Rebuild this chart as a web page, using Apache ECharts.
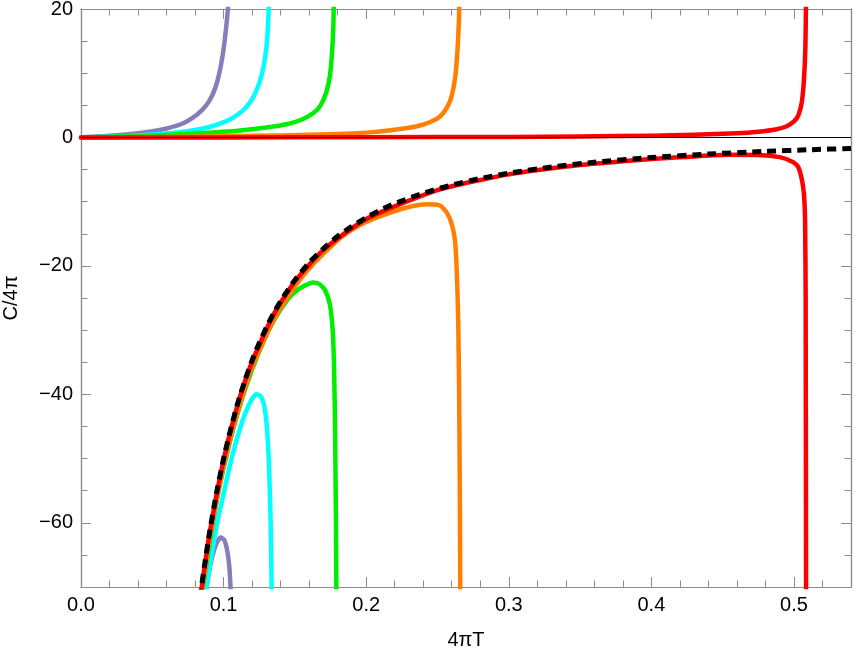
<!DOCTYPE html>
<html>
<head>
<meta charset="utf-8">
<script src="https://cdn.jsdelivr.net/npm/echarts@6/dist/echarts.min.js"></script>
<style>html,body{margin:0;padding:0;background:#fff}#c{width:854px;height:657px}</style>
</head>
<body>
<div id="c"></div>
<script>
// ---- tick values ----
const xMajorTicks = [0, 0.1, 0.2, 0.3, 0.4, 0.5];
const yMajorTicks = [-60, -40, -20, 0, 20];

// ---- black dashed reference curve ----
const dashX = [0.0835, 0.0845, 0.087, 0.09, 0.095, 0.1, 0.105, 0.11, 0.115, 0.12, 0.125, 0.13, 0.135, 0.14, 0.145, 0.15, 0.16, 0.17, 0.18, 0.19, 0.2, 0.21, 0.22, 0.24, 0.26, 0.28, 0.3, 0.33, 0.36, 0.4, 0.44, 0.48, 0.51, 0.54];
const dashY = [-71.7, -70.0, -66.1, -61.7, -55.4, -50.0, -45.4, -41.3, -37.8, -34.7, -32.0, -29.6, -27.4, -25.5, -23.8, -22.2, -19.5, -17.3, -15.4, -13.85, -12.5, -11.3, -10.3, -8.7, -7.4, -6.4, -5.56, -4.6, -3.86, -3.13, -2.58, -2.17, -1.92, -1.71];

// ---- purple ----
const purplePosX = [0, 0.02, 0.04, 0.05, 0.06, 0.07, 0.078, 0.085, 0.09, 0.094, 0.097, 0.0995, 0.1015, 0.103, 0.104];
const purplePosY = [0, 0.25, 0.65, 0.95, 1.4, 2.05, 3.0, 4.3, 5.7, 7.6, 10, 13, 16.5, 20, 24];
const purpleNegX = [0.0872, 0.0878, 0.0905, 0.093, 0.0955, 0.098, 0.1005, 0.1025, 0.104, 0.105, 0.1053];
const purpleNegY = [-72, -70.5, -66.8, -64.5, -63.0, -62.3, -62.7, -64.3, -66.8, -70.5, -72];

// ---- cyan ----
const cyanPosX = [0, 0.03, 0.05, 0.07, 0.085, 0.097, 0.106, 0.113, 0.118, 0.122, 0.1255, 0.128, 0.13, 0.1312, 0.132];
const cyanPosY = [0, 0.2, 0.45, 0.85, 1.35, 2.1, 3.0, 4.1, 5.3, 6.8, 8.8, 11, 14, 17.5, 23];
const cyanNegX = [0.0868, 0.088, 0.092, 0.096, 0.1, 0.104, 0.108, 0.112, 0.116, 0.12, 0.123, 0.126, 0.1285, 0.1305, 0.132, 0.133, 0.1337, 0.134];
const cyanNegY = [-72, -70, -64.5, -59.5, -55.5, -51.5, -48, -45, -42.5, -40.7, -40.0, -40.3, -41.8, -45.5, -52, -60, -70, -74];

// ---- green ----
const greenPosX = [0, 0.03, 0.06, 0.09, 0.11, 0.13, 0.145, 0.155, 0.163, 0.168, 0.172, 0.1745, 0.176, 0.177, 0.1775];
const greenPosY = [0, 0.15, 0.4, 0.75, 1.05, 1.55, 2.1, 2.8, 3.8, 5.0, 7.0, 9.5, 13, 17.5, 24];
const greenNegX = [0.0845, 0.0855, 0.095, 0.105, 0.115, 0.125, 0.135, 0.145, 0.152, 0.158, 0.1629, 0.167, 0.171, 0.1745, 0.1765, 0.1775, 0.1782, 0.1788, 0.1792];
const greenNegY = [-71.5, -70, -56.8, -46.9, -39.3, -33.3, -28.6, -25.2, -23.7, -22.95, -22.6, -22.8, -23.7, -26, -30, -36, -46, -60, -75];

// ---- orange ----
const orangePosX = [0, 0.05, 0.1, 0.14, 0.18, 0.2, 0.22, 0.235, 0.245, 0.252, 0.257, 0.26, 0.2625, 0.264, 0.265, 0.2657];
const orangePosY = [0, 0.07, 0.18, 0.32, 0.52, 0.75, 1.2, 1.7, 2.4, 3.3, 4.8, 6.5, 9.5, 13.5, 18, 24];
const orangeNegX = [0.0842, 0.085, 0.09, 0.1, 0.11, 0.12, 0.135, 0.15, 0.16, 0.17, 0.182, 0.195, 0.205, 0.217, 0.2284, 0.2424, 0.2518, 0.2565, 0.26, 0.2623, 0.2635, 0.2645, 0.2652, 0.2658, 0.266];
const orangeNegY = [-71.5, -70.5, -62.8, -51.2, -42.6, -35.8, -28.5, -23.2, -20.4, -18.1, -15.6, -13.7, -12.7, -11.7, -10.9, -10.4, -10.6, -11.7, -13.5, -16.1, -20.8, -28, -40, -60, -75];

// ---- red ----
const redPosX = [0, 0.1, 0.2, 0.3, 0.35, 0.4, 0.43, 0.46, 0.475, 0.487, 0.495, 0.5, 0.503, 0.5055, 0.507, 0.508, 0.5085];
const redPosY = [0, 0.01, 0.03, 0.08, 0.15, 0.28, 0.42, 0.65, 0.9, 1.25, 1.75, 2.5, 3.4, 5.5, 9, 14, 22];
const redNegX = [0.0838, 0.0845, 0.09, 0.1, 0.11, 0.12, 0.135, 0.15, 0.17, 0.2, 0.25, 0.3, 0.35, 0.4, 0.43, 0.455, 0.475, 0.49, 0.4995, 0.503, 0.5055, 0.507, 0.5078, 0.5082, 0.5085];
const redNegY = [-71.5, -70.3, -61.9, -50.2, -41.5, -34.9, -27.6, -22.4, -17.5, -12.7, -8.2, -5.75, -4.3, -3.35, -2.95, -2.7, -2.72, -3.07, -3.86, -4.6, -6.5, -8.8, -13, -25, -75];

const COLORS = {purple: '#8a7cbb', cyan: '#00ffff', green: '#00ee00', orange: '#ff8000', red: '#ff0000'};

function pairs(xs, ys) { return xs.map((x, i) => [x, ys[i]]); }

const FONT = 'Liberation Sans, Arial, sans-serif';
const FRAME = '#8c8c8c';

function curve(name, xs, ys, color) {
  return {
    name: name, type: 'line', xAxisIndex: 0, yAxisIndex: 0,
    data: pairs(xs, ys), showSymbol: false, symbol: 'none',
    smooth: 0.2, clip: true,
    lineStyle: {color: color, width: 4.5, cap: 'round', join: 'round'},
    emphasis: {disabled: true}, silent: true
  };
}

const series = [
  {
    type: 'line', xAxisIndex: 0, yAxisIndex: 0, data: [], silent: true,
    markLine: {silent: true, symbol: 'none', label: {show: false},
      lineStyle: {color: '#000', width: 1.2, type: 'solid'},
      data: [{yAxis: 0}], animation: false}
  },
  curve('purple+', purplePosX, purplePosY, COLORS.purple),
  curve('purple-', purpleNegX, purpleNegY, COLORS.purple),
  curve('cyan+', cyanPosX, cyanPosY, COLORS.cyan),
  curve('cyan-', cyanNegX, cyanNegY, COLORS.cyan),
  curve('green+', greenPosX, greenPosY, COLORS.green),
  curve('green-', greenNegX, greenNegY, COLORS.green),
  curve('orange+', orangePosX, orangePosY, COLORS.orange),
  curve('orange-', orangeNegX, orangeNegY, COLORS.orange),
  curve('red+', redPosX, redPosY, COLORS.red),
  curve('red-', redNegX, redNegY, COLORS.red),
  {
    name: 'dashed', type: 'line', xAxisIndex: 0, yAxisIndex: 0,
    data: pairs(dashX, dashY), showSymbol: false, symbol: 'none',
    smooth: 0.2, clip: true, silent: true,
    lineStyle: {color: '#000', width: 5, type: [9, 6], cap: 'butt'}
  }
];

const X_MIN = 0, X_MAX = 0.54, Y_MIN = -70, Y_MAX = 20;

function xAx(pos, major, showLabel, withName) {
  const a = {
    type: 'value', position: pos, min: X_MIN, max: X_MAX,
    axisLine: {show: true, onZero: false, lineStyle: {color: FRAME, width: 1.2}},
    splitLine: {show: false},
    axisTick: {show: true, inside: true, length: major ? 10 : 6.5, lineStyle: {color: FRAME, width: 1}},
    axisLabel: {show: showLabel, margin: 8, color: '#000', fontSize: 20, fontFamily: FONT,
      formatter: v => v.toFixed(1)}
  };
  if (major) {
    a.axisTick.customValues = xMajorTicks;
    a.axisLabel.customValues = xMajorTicks;
  } else {
    a.interval = 0.02;
  }
  if (withName) {
    a.name = '4\u03c0T'; a.nameLocation = 'middle'; a.nameGap = 43;
    a.nameTextStyle = {color: '#000', fontSize: 20, fontFamily: FONT};
  }
  return a;
}
function yAx(pos, major, showLabel, withName) {
  const a = {
    type: 'value', position: pos, min: Y_MIN, max: Y_MAX,
    axisLine: {show: true, onZero: false, lineStyle: {color: FRAME, width: 1.2}},
    splitLine: {show: false},
    axisTick: {show: true, inside: true, length: major ? 10 : 6.5, lineStyle: {color: FRAME, width: 1}},
    axisLabel: {show: showLabel, margin: 8, color: '#000', fontSize: 20, fontFamily: FONT,
      formatter: v => (v < 0 ? '\u2212' + Math.abs(v) : String(v))}
  };
  if (major) {
    a.axisTick.customValues = yMajorTicks;
    a.axisLabel.customValues = yMajorTicks;
  } else {
    a.interval = 5;
  }
  if (withName) {
    a.name = 'C/4\u03c0'; a.nameLocation = 'middle'; a.nameGap = 60;
    a.nameTextStyle = {color: '#000', fontSize: 20, fontFamily: FONT};
  }
  return a;
}

const chart = echarts.init(document.getElementById('c'), null, {renderer: 'canvas'});
chart.setOption({
  animation: false,
  backgroundColor: '#fff',
  grid: {left: 81, right: 3, top: 9, bottom: 70, containLabel: false, outerBoundsMode: 'none'},
  xAxis: [xAx('bottom', true, true, true), xAx('bottom', false, false, false),
          xAx('top', true, false, false), xAx('top', false, false, false)],
  yAxis: [yAx('left', true, true, true), yAx('left', false, false, false),
          yAx('right', true, false, false), yAx('right', false, false, false)],
  series: series
});
</script>
</body>
</html>
